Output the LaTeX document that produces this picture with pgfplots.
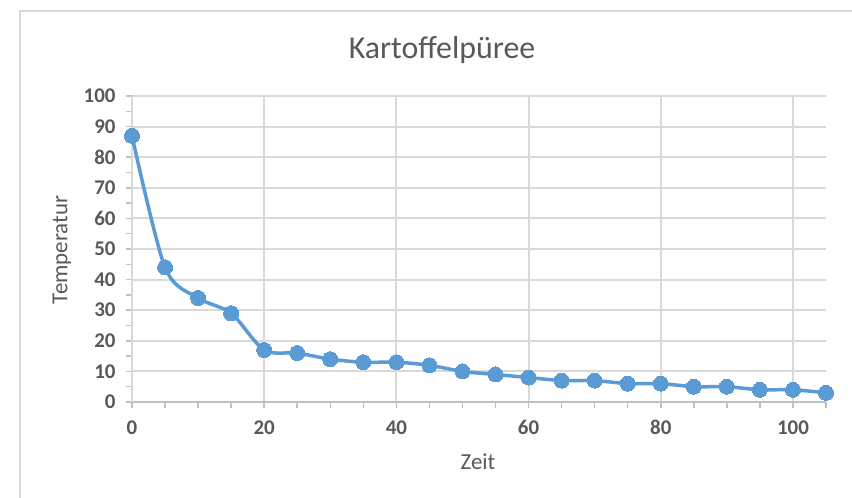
\documentclass[border=0pt]{standalone}
\usepackage{pgfplots}
\pgfplotsset{compat=1.18}
\usepackage{fontspec}
\setmainfont{Carlito}
\definecolor{txt}{HTML}{595959}
\definecolor{grid}{HTML}{D9D9D9}
\definecolor{axl}{HTML}{BFBFBF}
\definecolor{ser}{HTML}{5B9BD5}
\begin{document}
\begin{tikzpicture}
\useasboundingbox (0,0) rectangle (852bp,-498bp);
\clip (0,0) rectangle (852bp,-498bp);
\fill[white] (0,0) rectangle (852bp,-498bp);
\draw[color=grid, line width=2bp] (20bp,-11bp) rectangle (900bp,-560bp);
\begin{axis}[
  at={(132bp,-402bp)}, anchor=south west,
  scale only axis, width=694bp, height=306bp,
  xmin=0, xmax=105, ymin=0, ymax=100,
  axis lines=left, axis line style={-},
  x axis line style={color=axl, line width=2.5bp},
  y axis line style={color=grid, line width=2bp},
  xtick={0,20,...,100}, minor xtick={5,10,...,105},
  ytick={0,10,...,100}, minor ytick={5,15,...,95},
  tick align=outside,
  major tick length=6bp, minor tick length=6bp,
  every tick/.style={color=axl, line width=1.5bp},
  grid=major,
  major grid style={color=grid, line width=2bp},
  ticklabel style={font=\fontsize{21}{24}\selectfont\bfseries, text=txt},
  xticklabel style={yshift=-9bp},
  yticklabel style={xshift=-7bp},
  /pgf/number format/assume math mode=true,
  title={Kartoffelpüree},
  title style={font=\fontsize{32}{36}\selectfont, text=txt, at={(axis description cs:0.4467,1.131)}, anchor=center},
  xlabel={Zeit},
  xlabel style={font=\fontsize{23}{26}\selectfont, text=txt, at={(axis description cs:0.4986,-0.196)}, anchor=center},
  ylabel={Temperatur},
  ylabel style={font=\fontsize{23}{26}\selectfont, text=txt, at={(axis description cs:-0.101,0.497)}, anchor=center, rotate=0},
  clip=false,
]
\addplot[color=ser, line width=3.5bp, smooth, tension=0.5, mark=*, mark size=7.5bp, mark options={fill=ser, draw=ser, line width=0pt}]
coordinates {
(0,87) (5,44) (10,34) (15,29) (20,17) (25,16) (30,14) (35,13) (40,13) (45,12)
(50,10) (55,9) (60,8) (65,7) (70,7) (75,6) (80,6) (85,5) (90,5) (95,4) (100,4) (105,3)
};
\end{axis}
\end{tikzpicture}
\end{document}
